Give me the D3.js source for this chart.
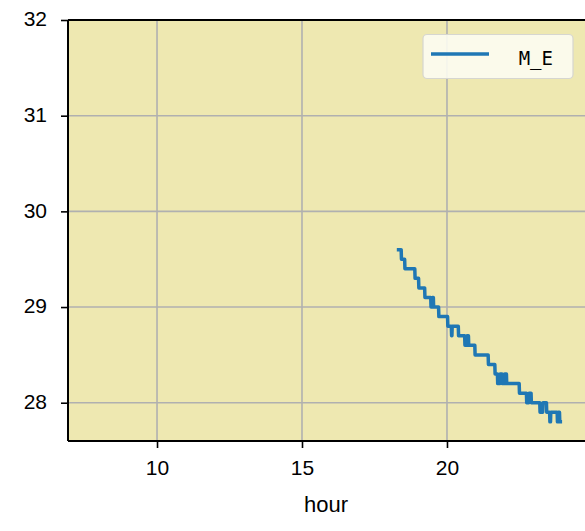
<!DOCTYPE html>
<html><head><meta charset="utf-8">
<script src="https://cdn.jsdelivr.net/npm/d3@7"></script>
<style>body{margin:0;background:#fff}svg{display:block}</style>
</head><body>
<script>
// data
const hours = [18.27,18.42, 18.43,18.54, 18.55,18.89, 18.90,19.02, 19.03,19.23, 19.24,19.44, 19.45,19.49, 19.50,19.53, 19.54,19.71, 19.72,20.02,
  20.03,20.15, 20.16,20.17, 20.18,20.39, 20.40,20.61, 20.62,20.68, 20.69,20.74, 20.75,20.96, 20.97,21.42, 21.43,21.65, 21.66,21.74,
  21.75,21.82, 21.83,21.90, 21.91,21.98, 21.99,22.05, 22.06,22.49, 22.50,22.74, 22.75,22.82, 22.83,22.90, 22.91,23.20, 23.21,23.30,
  23.31,23.43, 23.44,23.54, 23.55,23.57, 23.58,23.80, 23.81,23.83, 23.84,23.88, 23.89,23.97];
const temps = [29.6,29.6, 29.5,29.5, 29.4,29.4, 29.3,29.3, 29.2,29.2, 29.1,29.1, 29.0,29.0, 29.1,29.1, 29.0,29.0, 28.9,28.9,
  28.8,28.8, 28.7,28.7, 28.8,28.8, 28.7,28.7, 28.6,28.6, 28.7,28.7, 28.6,28.6, 28.5,28.5, 28.4,28.4, 28.3,28.3,
  28.2,28.2, 28.3,28.3, 28.2,28.2, 28.3,28.3, 28.2,28.2, 28.1,28.1, 28.0,28.0, 28.1,28.1, 28.0,28.0, 27.9,27.9,
  28.0,28.0, 27.9,27.9, 27.8,27.8, 27.9,27.9, 27.8,27.8, 27.9,27.9, 27.8,27.8];
const xTicks = [10, 15, 20];
const yTicks = [28, 29, 30, 31, 32];
const xDomain = [6.93, 24.76];
const yDomain = [27.6, 32];
const seriesName = "M_E";
const xLabel = "hour";

const W = 585, H = 531;
const L = 68, T = 20, R = 585, B = 441;
const font = "'Liberation Sans', Arial, sans-serif";

const svg = d3.select("body").append("svg").attr("width", W).attr("height", H);
const x = d3.scaleLinear().domain(xDomain).range([L, R]);
const y = d3.scaleLinear().domain(yDomain).range([B, T]);

svg.append("rect").attr("x", L).attr("y", T).attr("width", R - L).attr("height", B - T).attr("fill", "#eee8b1");

// grid
const g = svg.append("g");
g.selectAll(".gx").data(xTicks).join("line")
  .attr("x1", d => x(d)).attr("x2", d => x(d)).attr("y1", T).attr("y2", B)
  .attr("stroke", "#b0b0b0").attr("stroke-width", 1.6);
g.selectAll(".gy").data(yTicks).join("line")
  .attr("y1", d => y(d)).attr("y2", d => y(d)).attr("x1", L).attr("x2", R)
  .attr("stroke", "#b0b0b0").attr("stroke-width", 1.6);

// line
const pts = hours.map((h, i) => [h, temps[i]]);
svg.append("path").datum(pts)
  .attr("d", d3.line().x(d => x(d[0])).y(d => y(d[1])))
  .attr("fill", "none").attr("stroke", "#1f77b4").attr("stroke-width", 3.5)
  .attr("stroke-linejoin", "round").attr("stroke-linecap", "butt");

// axes
const xAxis = d3.axisBottom(x).tickValues(xTicks).tickSize(7).tickPadding(12).tickFormat(d3.format("d"));
const yAxis = d3.axisLeft(y).tickValues(yTicks).tickSize(7).tickPadding(14).tickFormat(d3.format("d"));
const gx = svg.append("g").attr("transform", `translate(0,${B})`).call(xAxis);
const gy = svg.append("g").attr("transform", `translate(${L},0)`).call(yAxis);
[gx, gy].forEach(a => {
  a.select(".domain").remove();
  a.selectAll(".tick line").attr("stroke", "#000").attr("stroke-width", 1.6);
  a.selectAll(".tick text").attr("fill", "#000").style("font-family", font).style("font-size", "21px");
});
gy.selectAll(".tick text").attr("dy", "0.28em");

// spines
svg.append("line").attr("x1", L).attr("x2", L).attr("y1", T).attr("y2", B).attr("stroke", "#000").attr("stroke-width", 2);
svg.append("line").attr("x1", L).attr("x2", R).attr("y1", B).attr("y2", B).attr("stroke", "#000").attr("stroke-width", 2);
svg.append("line").attr("x1", L).attr("x2", R).attr("y1", T).attr("y2", T).attr("stroke", "#000").attr("stroke-width", 2);

svg.append("text").attr("x", 326).attr("y", 512).attr("text-anchor", "middle")
  .style("font-family", font).style("font-size", "22px").text(xLabel);

// legend
const lg = svg.append("g");
lg.append("rect").attr("x", 423).attr("y", 34.5).attr("width", 150).attr("height", 44).attr("rx", 4)
  .attr("fill", "#fcfcf2").attr("fill-opacity", 0.9).attr("stroke", "#d6d6d0").attr("stroke-width", 1.2);
lg.append("line").attr("x1", 431).attr("x2", 489).attr("y1", 54).attr("y2", 54)
  .attr("stroke", "#1f77b4").attr("stroke-width", 3.5);
lg.append("text").attr("x", 553).attr("y", 65).attr("text-anchor", "end")
  .style("font-family", "'DejaVu Sans Mono', monospace").style("font-size", "19px").text(seriesName);
</script>
</body></html>
